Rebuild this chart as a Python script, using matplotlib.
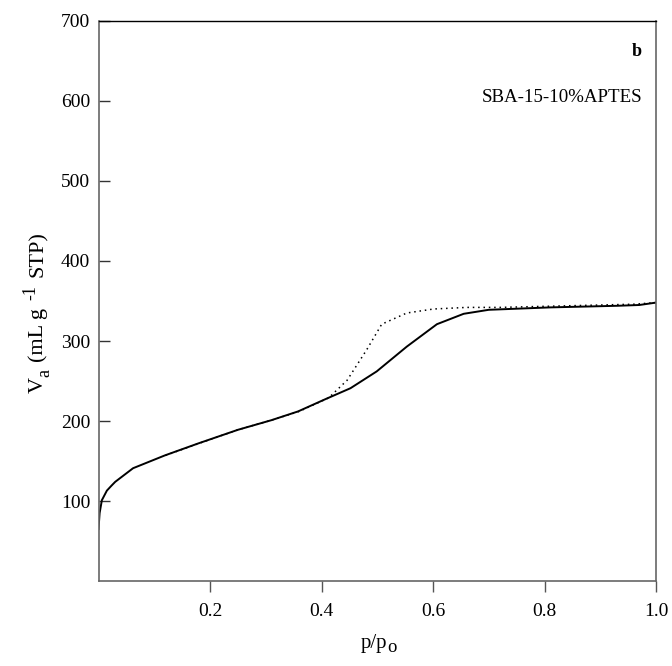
import matplotlib
matplotlib.use("Agg")
import matplotlib.pyplot as plt
from matplotlib.transforms import IdentityTransform

plt.rcParams['font.family'] = 'Liberation Serif'

# adsorption branch (solid)
p_ads = [0.0, 0.002, 0.006, 0.015, 0.023, 0.03, 0.062, 0.119, 0.179, 0.25,
         0.31, 0.358, 0.406, 0.452, 0.499, 0.553, 0.607, 0.655, 0.70, 0.81,
         0.93, 0.97, 1.0]
v_ads = [65, 85, 101, 113, 119, 124, 141, 157, 172, 189,
         201, 212, 227, 241, 262, 293, 321, 334, 339, 342,
         344, 345, 348]

# desorption branch (dotted)
p_des = [1.0, 0.96, 0.84, 0.72, 0.661, 0.601, 0.553, 0.508, 0.481, 0.446,
         0.413, 0.36, 0.31, 0.25, 0.18, 0.12]
v_des = [348, 346, 344, 342, 342, 340, 335, 321, 289, 251,
         229, 212, 201, 189, 172, 157]

fig = plt.figure(figsize=(6.72, 6.66), dpi=100)
ax = fig.add_axes([0.1466, 0.1276, 0.8296, 0.8409])

ax.plot(p_ads, v_ads, color='black', lw=1.4)
ax.plot(p_des, v_des, color='black', lw=1.1, linestyle=(0, (1, 2.5)))

ax.set_xlim(0, 1.0)
ax.set_ylim(0, 700)
ax.set_xticks([0.2, 0.4, 0.6, 0.8, 1.0])
ax.set_xticklabels(['0.2', '0.4', '0.6', '0.8', '1.0'])
ax.set_yticks([100, 200, 300, 400, 500, 600, 700])

ax.tick_params(axis='y', direction='in', length=8, width=1, colors='#333333',
               labelcolor='black', labelsize=14, pad=6)
ax.tick_params(axis='x', direction='out', length=8, width=1, colors='#555555',
               labelcolor='black', labelsize=14, pad=8)

for side in ['left', 'bottom', 'right']:
    ax.spines[side].set_color('#666666')
    ax.spines[side].set_linewidth(1.2)
ax.spines['top'].set_color('black')
ax.spines['top'].set_linewidth(1.0)

renderer = fig.canvas.get_renderer()

# x label: p/p with a large subscript o
xl = fig.text(361, 666 - 648, 'p/p', ha='left', va='baseline', fontsize=15,
              transform=IdentityTransform())
xw = xl.get_window_extent(renderer).width
fig.text(361 + xw, 666 - 652, 'o', ha='left', va='baseline', fontsize=13.5,
         transform=IdentityTransform())

# y label built piece by piece (larger sub/superscripts as in the original)
base_x = 43          # baseline, pixels from left
pos = 666 - 393      # bottom end of the label, pixels from bottom
pieces = [('V', 16, 0, 0), ('a', 13, 6, 7), ('(mL g', 16, 0, 8),
          ('-1', 13, -8, 8), ('STP)', 16, 0, 0)]
for s, size, dx, gap in pieces:
    t = fig.text(base_x + dx, pos, s, rotation=90, rotation_mode='anchor',
                 ha='left', va='baseline', fontsize=size,
                 transform=IdentityTransform())
    pos += t.get_window_extent(renderer).height + gap

ax.text(0.975, 0.946, 'b', transform=ax.transAxes, ha='right', va='center',
        fontsize=13, fontweight='bold')
ax.text(0.975, 0.864, 'SBA-15-10%APTES', transform=ax.transAxes, ha='right',
        va='center', fontsize=13.6)

fig.savefig('out.png', dpi=100)
